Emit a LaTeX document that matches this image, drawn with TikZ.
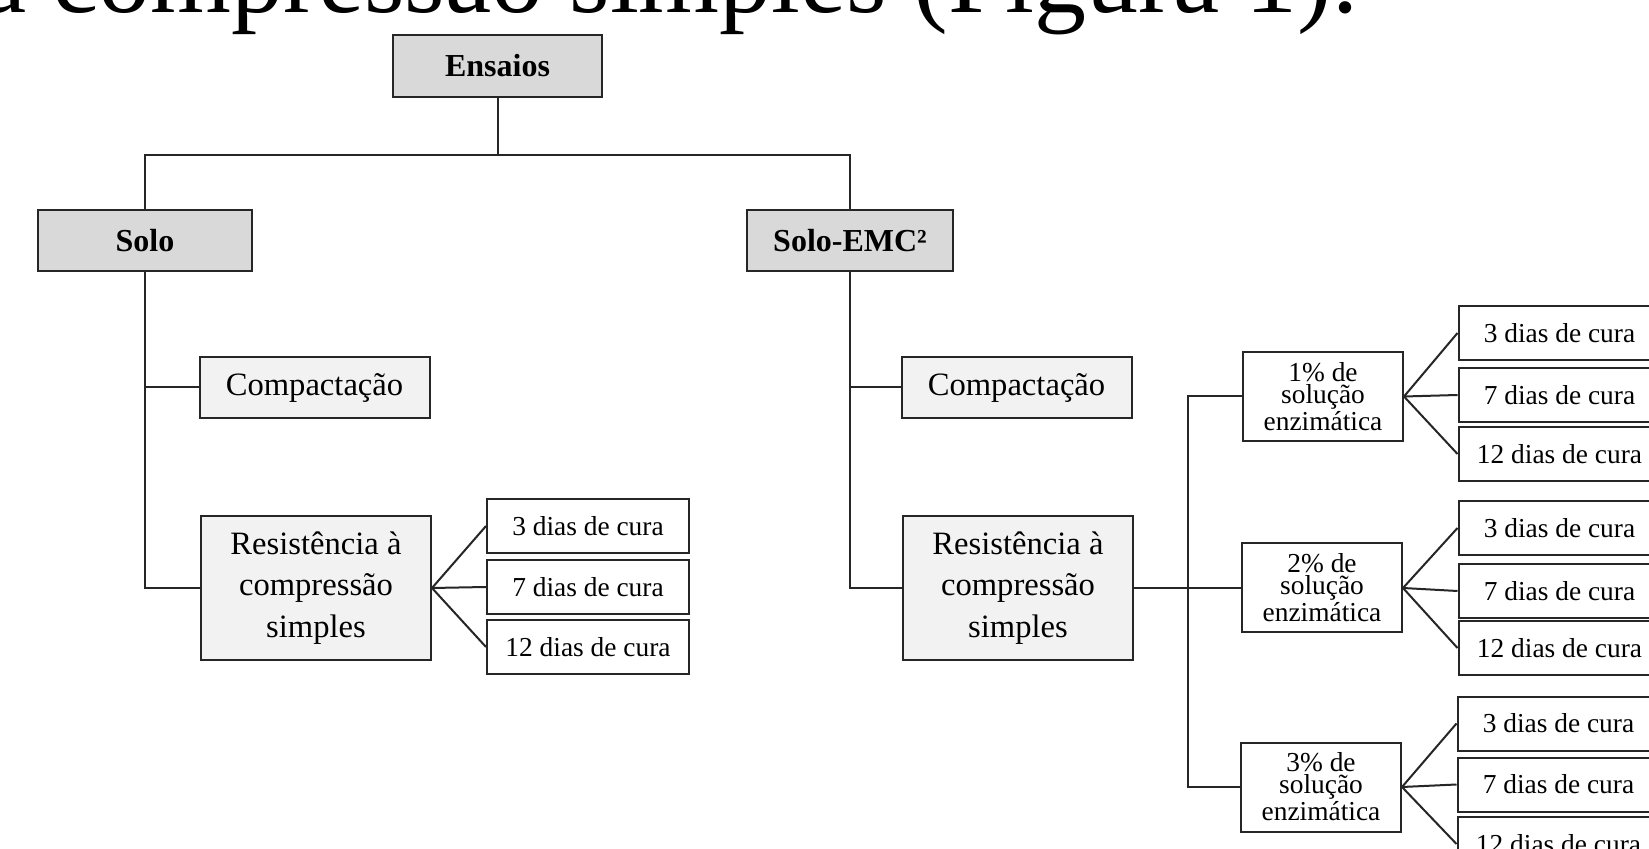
\documentclass[tikz,border=0pt]{standalone}
\usepackage{fontspec}
\setmainfont{Liberation Serif}
\begin{document}
\begin{tikzpicture}[x=0.5pt,y=-0.5pt,
  box/.style={draw=black!85, line width=1pt, inner sep=0pt, align=center},
  topbox/.style={box, fill=gray!30, minimum height=30.5pt, font=\fontsize{16}{19}\selectfont\bfseries},
  midbox/.style={box, fill=black!5, minimum width=115pt, font=\fontsize{16.3}{20.8}\selectfont},
  curabox/.style={box, fill=white, minimum width=101pt, minimum height=27pt, font=\fontsize{13.7}{16}\selectfont},
  pctbox/.style={box, fill=white, minimum width=80pt, minimum height=44.5pt, font=\fontsize{13.7}{11}\selectfont},
  wire/.style={black!85, line width=1pt}]
\useasboundingbox (0,0) rectangle (1649,849);
\clip (0,0) rectangle (1649,849);
\fill[white] (0,0) rectangle (1649,849);

% title (cropped)
\node[anchor=base west, inner sep=0pt, font=\fontsize{52}{60}\selectfont] (title) at (-20,13) {a compressão simples (Figura 1).};

% top level
\node[topbox, minimum width=104.5pt, minimum height=31pt] (ens) at (497.5,66) {Ensaios};
\node[topbox, minimum width=107pt] (solo) at (145,240.5) {Solo};
\node[topbox, minimum width=103pt] (emc) at (850,240.5) {Solo-EMC²};

% left branch
\node[midbox, minimum height=30.5pt] (compL) at (314.5,387.5) {Compactação};
\node[midbox, minimum height=72pt] (resL) at (316,588) {Resistência à\\compressão\\simples};
\node[curabox] (l3) at (588,526) {3 dias de cura};
\node[curabox] (l7) at (588,587) {7 dias de cura};
\node[curabox] (l12) at (588,647) {12 dias de cura};

% right branch
\node[midbox, minimum height=30.5pt] (compR) at (1016.5,387.5) {Compactação};
\node[midbox, minimum height=72pt] (resR) at (1018,588) {Resistência à\\compressão\\simples};
\node[pctbox] (p1) at (1323,396.5) {1\% de\\solução\\enzimática};
\node[pctbox] (p2) at (1322,588) {2\% de\\solução\\enzimática};
\node[pctbox] (p3) at (1321,787) {3\% de\\solução\\enzimática};

\node[curabox] (a3) at (1559.5,333) {3 dias de cura};
\node[curabox] (a7) at (1559.5,395) {7 dias de cura};
\node[curabox] (a12) at (1559.5,454) {12 dias de cura};
\node[curabox] (b3) at (1559.5,528) {3 dias de cura};
\node[curabox] (b7) at (1559.5,591) {7 dias de cura};
\node[curabox] (b12) at (1559.5,648) {12 dias de cura};
\node[curabox] (c3) at (1558.5,723.5) {3 dias de cura};
\node[curabox] (c7) at (1558.5,784.5) {7 dias de cura};
\node[curabox] (c12) at (1558.5,844) {12 dias de cura};

% connectors
\coordinate (bar) at (0,155);
\coordinate (spine) at (1188,0);
\draw[wire] (ens.south) -- (ens.south |- bar);
\draw[wire] (solo.north) -- (solo.north |- bar) -- (emc.north |- bar) -- (emc.north);

\draw[wire] (solo.south) |- (compL.west);
\draw[wire] (solo.south) |- (resL.west);
\draw[wire] (emc.south) |- (compR.west);
\draw[wire] (emc.south) |- (resR.west);

\foreach \t in {l3,l7,l12} \draw[wire] (resL.east) -- (\t.west);

\draw[wire] (resR.east) -- (p2.west);
\draw[wire] (p1.west) -- (p1.west -| spine) -- (p3.west -| spine) -- (p3.west);

\foreach \t in {a3,a7,a12} \draw[wire] (p1.east) -- (\t.west);
\foreach \t in {b3,b7,b12} \draw[wire] (p2.east) -- (\t.west);
\foreach \t in {c3,c7,c12} \draw[wire] (p3.east) -- (\t.west);
\end{tikzpicture}
\end{document}
